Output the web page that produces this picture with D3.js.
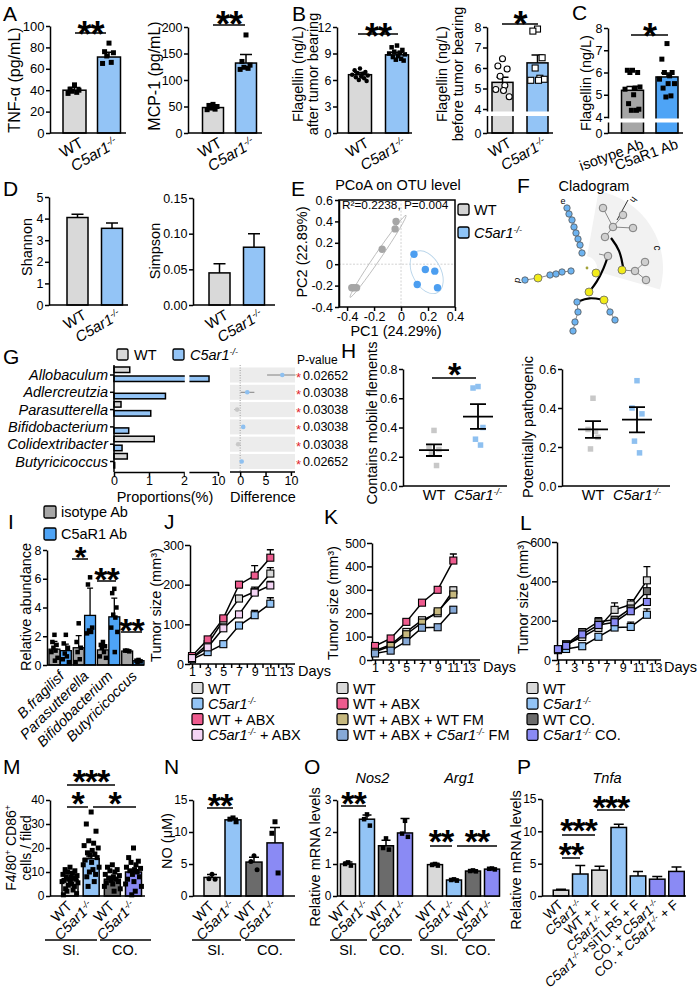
<!DOCTYPE html>
<html><head><meta charset="utf-8">
<script src="https://cdn.jsdelivr.net/npm/d3@7/dist/d3.min.js"></script>
<style>html,body{margin:0;padding:0;background:#fff;}svg{display:block} text{white-space:pre}</style>
</head><body>
<svg id="fig" width="700" height="999" xmlns="http://www.w3.org/2000/svg"></svg>
<script>
// ================= DATA =================
// Panel A
const aCats = ['WT', '*C5ar1*^-/-^'];
const aTnfMean = [40, 71];
const aTnfSem = [2.5, 4.5];
const aTnfPts = [[45, 41, 40, 39, 38, 37], [84, 76, 75, 72, 66, 65]];
const aTnfTicks = [0, 20, 40, 60, 80, 100];
const aMcpMean = [48, 132];
const aMcpSem = [3, 16];
const aMcpPts = [[54, 52, 50, 47, 45, 44], [185, 135, 128, 124, 122, 120]];
const aMcpTicks = [0, 50, 100, 150, 200];
// Panel B
const bAfterMean = [6.6, 8.85];
const bAfterSem = [0.25, 0.3];
const bAfterPts = [[7.3, 7.1, 6.9, 6.8, 6.7, 6.6, 6.5, 6.4, 6.3, 6.2, 6.0, 5.9], [9.9, 9.7, 9.4, 9.2, 9.1, 9.0, 8.9, 8.7, 8.6, 8.4, 8.3, 8.2]];
const bAfterTicks = [0, 3, 6, 9, 12];
const bBeforeMean = [5.3, 6.25];
const bBeforeSem = [0.25, 0.38];
const bBeforePts = [[6.45, 6.1, 5.95, 5.6, 5.15, 4.95, 4.6, 4.9], [7.9, 7.8, 6.5, 6.0, 5.5, 5.4, 5.45, 5.4]];
const brokenTicks = [0, 4, 5, 6, 7, 8];
// Panel C
const cCats = ['isotype Ab', 'C5aR1 Ab'];
const cMean = [5.2, 5.8];
const cSem = [0.17, 0.18];
const cPts = [[6.1, 6.1, 6.0, 6.0, 5.3, 5.25, 5.35, 5.0, 4.6, 4.3, 4.3, 4.35], [7.3, 6.6, 6.0, 6.0, 5.85, 5.7, 5.5, 5.5, 5.3, 4.95, 4.9]];
// Panel D
const dShannon = [4.05, 3.55];
const dShannonSem = [0.15, 0.25];
const dShannonTicks = [0, 1, 2, 3, 4, 5];
const dSimpson = [0.045, 0.081];
const dSimpsonSem = [0.013, 0.019];
const dSimpsonTicks = [0, 0.05, 0.10, 0.15];
// Panel E
const eWT = [[-0.037, 0.40], [-0.044, 0.33], [-0.14, 0.14], [-0.33, -0.22], [-0.35, -0.22], [-0.365, -0.22]];
const eKO = [[0.096, 0.093], [0.18, -0.05], [0.25, -0.065], [0.12, -0.19], [0.27, -0.22]];
const eXTicks = [-0.4, -0.2, 0, 0.2, 0.4];
const eYTicks = [-0.4, -0.2, 0, 0.2, 0.4, 0.6];
const eGreyAxis = [[-0.378, -0.31], [0.037, 0.457]];
const eBlueEll = [0.19, -0.075, 0.105, 0.215];
// Panel F (cladogram node offsets)
const fBlue = [[-18,-60],[-16,-54],[-13,-48],[-11,-41],[-9,-35],[-7,-29],[-5,-23],[-3,-15],[-60,12],[-35,7],[-29,6],[-23,4],[-14,3],[-8,34],[-7,44],[-10,54],[-12,63],[25,44],[30,52]];
const fYellow = [[-47,10],[11,5],[4,24],[19,32],[37,2]];
const fGrey = [[18,-60],[28,-41],[38,-53],[48,-40],[20,-31],[23,-12],[50,3],[60,-6],[61,12]];
const fChains = [
  [[-18,-60],[-16,-54],[-13,-48],[-11,-41],[-9,-35],[-7,-29],[-5,-23],[-3,-15]],
  [[-60,12],[-47,10],[-35,7],[-29,6],[-23,4],[-14,3]],
  [[-8,34],[-7,44],[-10,54],[-12,63]],
  [[19,32],[25,44],[30,52]],
  [[18,-60],[28,-41]], [[38,-53],[28,-41]], [[48,-40],[28,-41]], [[28,-41],[20,-31]],
  [[37,2],[50,3]], [[50,3],[60,-6]], [[50,3],[61,12]], [[11,5],[15,10]], [[23,-12],[14,-14]]
];
const fArcs = [
  [[4,24],[12,14],[19,0],[23,-12]],
  [[26,-30],[35,-18],[38,-1]],
  [[-8,34],[4,29],[19,32]]
];
// Panel G
const gGenera = ['Allobaculum', 'Adlercreutzia', 'Parasutterella', 'Bifidobacterium', 'Colidextribacter', 'Butyricicoccus'];
const gWT = [0.45, 0.0, 0.2, 0.0, 1.15, 0.38];
const gKO = [8.75, 1.47, 1.05, 0.42, 0.23, 0.02];
const gDiff = [8.3, 1.4, -0.6, 0.6, -0.4, 0.3];
const gLo = [5.3, 0.1, -1.1, 0.3, -0.6, 0.1];
const gHi = [10.9, 2.8, -0.2, 0.9, -0.2, 0.5];
const gP = ['0.02652', '0.03038', '0.03038', '0.03038', '0.03038', '0.02652'];
const gPropTicks = [0, 1, 2, 10];
const gDiffTicks = [0, 5, 10];
// Panel H
const hMobilePts = [[0.38, 0.27, 0.25, 0.22, 0.14], [0.68, 0.67, 0.40, 0.32, 0.28]];
const hMobileMean = [0.245, 0.475];
const hMobileSem = [0.04, 0.085];
const hPathoPts = [[0.45, 0.29, 0.25, 0.19, 0.28], [0.54, 0.40, 0.37, 0.23, 0.17]];
const hPathoMean = [0.29, 0.34];
const hPathoSem = [0.043, 0.065];
const hMobileTicks = [0, 0.2, 0.4, 0.6, 0.8];
const hPathoTicks = [0, 0.2, 0.4, 0.6];
// Panel I
const iGroups = ['B.fragilisf', 'Parasutterella', 'Bifidobacterium', 'Butyricicoccus'];
const iIsoMean = [1.1, 1.2, 1.05, 0.97];
const iIsoSd = [0.55, 0.85, 0.35, 0.05];
const iAbMean = [1.0, 3.45, 3.35, 0.3];
const iAbSd = [0.45, 1.9, 1.3, 0.05];
const iIsoPts = [[2.1, 1.6, 1.4, 1.2, 1.0, 0.9, 0.5, 0.3], [2.9, 1.6, 1.2, 0.9, 0.4, 0.2], [1.6, 1.4, 1.3, 1.2, 0.9, 0.6, 0.5], [1.0, 1.0, 0.95]];
const iAbPts = [[2.1, 1.5, 1.2, 0.8, 0.6, 0.4, 0.2], [6.1, 5.6, 2.6, 2.4, 2.3, 2.2], [5.3, 5.0, 4.0, 3.5, 3.3, 2.6, 2.3, 0.9], [0.35, 0.3, 0.25, 0.2]];
const iTicks = [0, 2, 4, 6, 8];
// Panel J
const jDays = [1, 3, 5, 7, 9, 11];
const jNames = ['WT', '*C5ar1*^-/-^', 'WT + ABX', '*C5ar1*^-/-^ + ABX'];
const jWT = [15, 50, 110, 165, 182, 228];
const jWTe = [3, 4, 5, 8, 12, 15];
const jKO = [12, 30, 50, 97, 123, 152];
const jKOe = [2, 3, 4, 6, 12, 15];
const jABX = [20, 62, 115, 200, 223, 268];
const jABXe = [3, 4, 5, 6, 25, 20];
const jKOABX = [15, 42, 90, 125, 180, 198];
const jKOABXe = [2, 3, 4, 5, 8, 10];
const jTicks = [0, 100, 200, 300];
// Panel K
const kDays = [1, 3, 5, 7, 9, 11];
const kNames = ['WT', 'WT + ABX', 'WT + ABX + WT FM', 'WT + ABX + *C5ar1*^-/-^ FM'];
const kWT = [40, 65, 120, 170, 200, 298];
const kWTe = [4, 5, 8, 10, 10, 12];
const kABX = [60, 92, 163, 245, 300, 425];
const kABXe = [5, 6, 8, 10, 10, 28];
const kWTFM = [35, 60, 110, 160, 208, 280];
const kWTFMe = [3, 5, 6, 8, 10, 12];
const kKOFM = [28, 40, 80, 138, 140, 215];
const kKOFMe = [3, 4, 5, 8, 10, 12];
const kTicks = [0, 100, 200, 300, 400, 500];
// Panel L
const lDays = [1, 2, 4, 6, 8, 10, 12];
const lNames = ['WT', '*C5ar1*^-/-^', 'WT CO.', '*C5ar1*^-/-^ CO.'];
const lWT = [55, 80, 117, 163, 255, 282, 405];
const lWTe = [3, 5, 10, 15, 35, 25, 70];
const lKO = [50, 56, 70, 118, 165, 168, 230];
const lKOe = [3, 4, 5, 10, 20, 25, 30];
const lWTCO = [55, 78, 142, 195, 205, 262, 350];
const lWTCOe = [3, 5, 10, 20, 15, 30, 40];
const lKOCO = [55, 72, 130, 178, 192, 248, 295];
const lKOCOe = [3, 5, 8, 15, 15, 25, 40];
const lTicks = [0, 200, 400, 600];
// Panel M
const mCats = ['WT', '*C5ar1*^-/-^', 'WT', '*C5ar1*^-/-^'];
const mMean = [6.7, 15.5, 7.0, 10.0];
const mSem = [0.6, 1.2, 0.7, 0.9];
const mPts = [
  [12, 11, 10.5, 10, 9.5, 9, 8.5, 8, 8, 7.5, 7, 7, 6.5, 6, 6, 5.5, 5, 4.5, 4, 3, 2.5, 2, 1, 0.5],
  [35, 30, 27, 23, 22, 21, 20, 19, 18, 17.5, 17, 16, 15, 14, 13, 12, 11, 10, 9, 8, 6, 4],
  [13, 12, 11, 10.5, 10, 9, 8.5, 8, 7.5, 7, 6.5, 6, 5.5, 5, 4, 3, 2],
  [20, 16, 14.5, 14, 13, 12, 11.5, 11, 10.5, 10, 9, 8, 7, 6, 5, 4, 2, 0.5]];
const mTicks = [0, 10, 20, 30, 40];
// Panel N
const nMean = [2.9, 11.9, 5.3, 8.3];
const nSem = [0.45, 0.25, 0.75, 2.4];
const nPts = [[3.4, 2.7, 2.6], [12.2, 12.0, 11.6], [6.3, 5.4, 4.1], [11.6, 9.8, 3.6]];
const nTicks = [0, 5, 10, 15];
// Panel O
const oGenes = ['Nos2', 'Arg1'];
const oNos2Mean = [1.0, 2.4, 1.57, 1.97];
const oNos2Sem = [0.06, 0.13, 0.17, 0.45];
const oNos2Pts = [[1.05, 1.0, 0.95], [2.55, 2.4, 2.2], [1.8, 1.5, 1.45], [2.35, 1.95, 1.85]];
const oArg1Mean = [0.98, 0.5, 0.78, 0.84];
const oArg1Sem = [0.04, 0.03, 0.03, 0.03];
const oArg1Pts = [[1.0, 0.97, 0.95], [0.52, 0.5, 0.48], [0.8, 0.78, 0.77], [0.86, 0.85, 0.83]];
const oTicks = [0, 1, 2, 3];
// Panel P
const pCats = ['WT', '*C5ar1*^-/-^', 'WT + F', '*C5ar1*^-/-^ + F', '*C5ar1*^-/-^ +siTLR5 + F', 'CO. + *C5ar1*^-/-^', 'CO. + *C5ar1*^-/-^ + F'];
const pMean = [0.9, 3.4, 4.0, 10.6, 3.1, 2.6, 3.8];
const pSem = [0.15, 1.3, 0.6, 0.5, 0.7, 0.4, 0.7];
const pTicks = [0, 5, 10, 15];

// ================= STYLE =================
const F = '"Liberation Sans", Arial, Helvetica, sans-serif';
const GREY = '#d9d9d9', BLUE = '#93c4f6', DGREY = '#6b6b6b', PURP = '#8a8af4', PINK = '#ee5b8e',
      LPINK = '#f4d4f4', KHAKI = '#c6b87e', STEEL = '#86a9d7', ISO = '#a6a6a6', ABBLUE = '#4ea4f6';
const JIT = [0, -0.55, 0.55, -0.28, 0.28, -0.8, 0.8, 0.12, -0.42, 0.42, -0.12, 0.68, -0.68, 0.05, -0.9, 0.9, 0.2, -0.2, 0.5, -0.5, 0.35, -0.35, 0.75, -0.75];
const svg = d3.select('#fig');
svg.append('rect').attr('width', 700).attr('height', 999).attr('fill', '#fff');

function rich(t, s) {
  const toks = s.match(/\*[^*]+\*|\^[^^]+\^|~[^~]+~|[^*^~]+/g) || [];
  let shifted = false;
  toks.forEach(tok => {
    let sp;
    if (tok[0] === '^' || tok[0] === '~') {
      sp = t.append('tspan').attr('font-size', '0.62em').attr('dy', '-0.55em').text(tok.slice(1, -1));
      if (tok[0] === '^') sp.attr('font-style', 'italic');
      shifted = true; return;
    }
    if (tok[0] === '*') sp = t.append('tspan').attr('font-style', 'italic').text(tok.slice(1, -1));
    else sp = t.append('tspan').text(tok);
    if (shifted) { sp.attr('dy', '0.34em'); shifted = false; }
  });
}
function txt(x, y, s, size, o = {}) {
  const t = svg.append('text').attr('x', x).attr('y', y).attr('font-size', size).attr('font-family', F).attr('fill', o.fill || '#000');
  if (o.anchor) t.attr('text-anchor', o.anchor);
  if (o.rot != null) t.attr('transform', `rotate(${o.rot},${x},${y})`);
  if (o.weight) t.attr('font-weight', o.weight);
  rich(t, s);
  return t;
}
function styleAxis(a, size) {
  a.attr('font-family', F).attr('font-size', size);
  a.selectAll('path.domain, .tick line').attr('stroke', '#000').attr('stroke-width', 1.5);
  a.selectAll('text').attr('fill', '#000');
}
function hline(x1, x2, y, w) {
  svg.append('line').attr('x1', x1).attr('x2', x2).attr('y1', y).attr('y2', y).attr('stroke', '#000').attr('stroke-width', w || 1.5);
}
function sig(x1, x2, yl, stars, yc, size) {
  hline(x1, x2, yl);
  svg.append('text').attr('x', (x1 + x2) / 2).attr('y', yc + size * 0.6).attr('text-anchor', 'middle')
    .attr('font-family', F).attr('font-weight', 'bold').attr('font-size', size).attr('letter-spacing', -1).text(stars);
}
function sq(g, x, y, s, fill, stroke) {
  g.append('rect').attr('x', x - s / 2).attr('y', y - s / 2).attr('width', s).attr('height', s)
    .attr('fill', fill).attr('stroke', stroke || 'none').attr('stroke-width', stroke ? 1.1 : 0);
}

function bars(o) {
  const g = svg.append('g');
  const n = o.mean.length, idx = d3.range(n);
  const x = d3.scalePoint().domain(idx).range(o.centers);
  const y = o.y, base = y(0);
  const cap = o.cap || o.bw * 0.28;
  g.selectAll(null).data(idx).join('path')
    .attr('d', i => { const cx = x(i), y1 = y(o.mean[i]), y2 = y(o.mean[i] + o.sem[i]); return `M${cx},${y1}V${y2}M${cx - cap},${y2}H${cx + cap}`; })
    .attr('stroke', '#000').attr('stroke-width', 1.5).attr('fill', 'none');
  g.selectAll(null).data(idx).join('rect')
    .attr('x', i => x(i) - o.bw / 2).attr('width', o.bw)
    .attr('y', i => y(o.mean[i])).attr('height', i => base - y(o.mean[i]))
    .attr('fill', i => o.fill[i]).attr('stroke', '#000').attr('stroke-width', 1.5);
  if (o.pts) {
    const s = o.psize || 5, spread = o.spread || 0.7;
    o.pts.forEach((arr, i) => arr.forEach((v, j) => {
      const px = x(i) + JIT[j % JIT.length] * o.bw * spread / 2, py = y(v);
      const sh = Array.isArray(o.shape) ? o.shape[i] : (o.shape || 'sq');
      if (sh === 'sq') sq(g, px, py, s, '#000');
      else if (sh === 'os') sq(g, px, py, s, '#fff', '#000');
      else g.append('circle').attr('cx', px).attr('cy', py).attr('r', s / 2)
        .attr('fill', sh === 'oc' ? '#fff' : '#000').attr('stroke', '#000').attr('stroke-width', sh === 'oc' ? 1.1 : 0);
    }));
  }
  if (!o.noAxis) {
    const a = g.append('g').attr('transform', `translate(${o.ax},0)`)
      .call(d3.axisLeft(y).tickValues(o.ticks).tickSize(4).tickSizeOuter(0).tickPadding(1.5).tickFormat(o.fmt || (d => d)));
    styleAxis(a, o.tsize || 12.5);
    hline(o.ax, o.xEnd, base);
  }
  if (o.xl) {
    g.selectAll(null).data(idx).join('text').attr('font-family', F).attr('font-size', o.lsize || 14)
      .attr('text-anchor', o.rot ? 'end' : 'middle')
      .attr('transform', i => `translate(${x(i) + (o.lx || 0)},${base + (o.ly || 14)})` + (o.rot ? ` rotate(${o.rot})` : ''))
      .each(function (i) { rich(d3.select(this), o.xl[i]); });
  }
  return { g, x, y, base };
}

function lineChart(o) {
  const g = svg.append('g');
  const x = d3.scaleLinear().domain([1, 13]).range([o.x1, o.x13]);
  const y = d3.scaleLinear().domain([0, o.ymax]).range([o.y0, o.y1]);
  const ya = g.append('g').attr('transform', `translate(${o.ax},0)`)
    .call(d3.axisLeft(y).tickValues(o.yticks).tickSize(5).tickSizeOuter(0).tickPadding(1));
  styleAxis(ya, 12.5);
  const xa = g.append('g').attr('transform', `translate(0,${o.y0})`)
    .call(d3.axisBottom(x).tickValues(d3.range(1, 14)).tickSize(4).tickSizeOuter(0).tickPadding(-1).tickFormat(d => d % 2 ? d : ''));
  styleAxis(xa, 12.5);
  xa.select('.domain').remove();
  hline(o.ax, o.xEnd, o.y0);
  txt(o.xEnd + 3, o.y0 + 12, 'Days', 14.5);
  const line = d3.line().x(p => x(p.t)).y(p => y(p.v));
  const ser = o.series.map(s => s.v.map((v, i) => ({ t: o.days[i], v, e: s.e[i], c: s.c })));
  ser.forEach(d => g.append('path').datum(d).attr('d', line).attr('fill', 'none').attr('stroke', '#000').attr('stroke-width', 1.5));
  ser.forEach(d => g.selectAll(null).data(d).join('path')
    .attr('d', p => `M${x(p.t)},${y(p.v)}V${y(p.v + p.e)}M${x(p.t) - 3.5},${y(p.v + p.e)}H${x(p.t) + 3.5}`)
    .attr('stroke', '#000').attr('stroke-width', 1.3).attr('fill', 'none'));
  ser.forEach(d => d.forEach(p => sq(g, x(p.t), y(p.v), 7, p.c, '#000')));
  o.series.forEach((s, i) => {
    const ly = o.legY + i * 15.6;
    svg.append('rect').attr('x', o.legX).attr('y', ly - 5.5).attr('width', 11).attr('height', 11).attr('rx', 1.5)
      .attr('fill', s.c).attr('stroke', '#000').attr('stroke-width', 1.2);
    txt(o.legX + 16, ly + 5.5, s.name, 14.5);
  });
}

// ================= PANEL LETTERS =================
const letters = [['A', 3, 21], ['B', 292, 21], ['C', 572, 20], ['D', 3, 196], ['E', 291, 196], ['F', 517, 193],
  ['G', 3, 364], ['H', 341, 358], ['I', 8, 529], ['J', 164, 529], ['K', 324, 524], ['L', 520, 530],
  ['M', 3, 774], ['N', 164, 774], ['O', 304, 774], ['P', 517, 774]];
letters.forEach(l => txt(l[1], l[2], l[0], 21));

// ================= A =================
bars({ ax: 50, xEnd: 126, y: d3.scaleLinear().domain([0, 100]).range([133, 26]), centers: [74.5, 109], bw: 23, cap: 6,
  mean: aTnfMean, sem: aTnfSem, fill: [GREY, BLUE], pts: aTnfPts, psize: 5, ticks: aTnfTicks, tsize: 13,
  xl: aCats, rot: -30, lx: 10, ly: 13, lsize: 15.5 });
txt(19.5, 80, 'TNF-α (pg/mL)', 16, { anchor: 'middle', rot: -90 });
sig(75, 106, 33, '**', 25, 36);
bars({ ax: 188, xEnd: 262, y: d3.scaleLinear().domain([0, 200]).range([133, 27]), centers: [213, 246], bw: 21, cap: 6,
  mean: aMcpMean, sem: aMcpSem, fill: [GREY, BLUE], pts: aMcpPts, psize: 5, ticks: aMcpTicks, tsize: 12.5,
  xl: aCats, rot: -30, lx: 10, ly: 13, lsize: 15.5 });
txt(160, 76, 'MCP-1 (pg/mL)', 16, { anchor: 'middle', rot: -90 });
sig(213, 245, 25, '**', 15, 36);

// ================= B =================
bars({ ax: 337, xEnd: 412, y: d3.scaleLinear().domain([0, 12]).range([133, 27]), centers: [360, 397], bw: 23, cap: 6,
  mean: bAfterMean, sem: bAfterSem, fill: [GREY, BLUE], pts: bAfterPts, psize: 4.5, spread: 0.85, shape: ['ci', 'sq'], ticks: bAfterTicks,
  xl: aCats, rot: -30, lx: 10, ly: 13, lsize: 15 });
txt(303, 74, 'Flagellin (ng/L)', 14.5, { anchor: 'middle', rot: -90 });
txt(318, 74, 'after tumor bearing', 14.5, { anchor: 'middle', rot: -90 });
sig(358, 398, 34, '**', 27.5, 36);

const bBrk = d3.scaleLinear().domain([0, 1, 4, 8]).range([133, 118, 109, 27]);
bars({ ax: 487, xEnd: 553, y: bBrk, centers: [502.5, 537.5], bw: 21, cap: 6,
  mean: bBeforeMean, sem: bBeforeSem, fill: [GREY, BLUE], pts: bBeforePts, psize: 6, spread: 0.8, shape: ['oc', 'os'], ticks: brokenTicks,
  xl: aCats, rot: -30, lx: 10, ly: 13, lsize: 15 });
svg.append('rect').attr('x', 485).attr('y', 111.5).attr('width', 70).attr('height', 4.5).attr('fill', '#fff');
txt(447, 74, 'Flagellin (ng/L)', 14.5, { anchor: 'middle', rot: -90 });
txt(463, 74, 'before tumor bearing', 14.5, { anchor: 'middle', rot: -90 });
sig(502, 538, 24, '*', 15, 36);

// ================= C =================
const cBrk = d3.scaleLinear().domain([0, 1, 4, 8]).range([133, 123, 117, 28]);
bars({ ax: 608, xEnd: 683, y: cBrk, centers: [632.5, 667], bw: 22, cap: 6,
  mean: cMean, sem: cSem, fill: [ISO, ABBLUE], pts: cPts, psize: 5, spread: 0.85, ticks: brokenTicks,
  xl: cCats, rot: -20, lx: 12, ly: 15, lsize: 14.5 });
svg.append('rect').attr('x', 606).attr('y', 118.5).attr('width', 80).attr('height', 4).attr('fill', '#fff');
txt(591, 83, 'Flagellin (ng/L)', 14.5, { anchor: 'middle', rot: -90 });
sig(631, 668, 35, '*', 27, 36);

// ================= D =================
bars({ ax: 49, xEnd: 128, y: d3.scaleLinear().domain([0, 5]).range([305, 197]), centers: [77.5, 112], bw: 21, cap: 6,
  mean: dShannon, sem: dShannonSem, fill: [GREY, BLUE], ticks: dShannonTicks,
  xl: aCats, rot: -30, lx: 10, ly: 13, lsize: 15 });
txt(32, 247, 'Shannon', 14.5, { anchor: 'middle', rot: -90 });
bars({ ax: 193, xEnd: 275, y: d3.scaleLinear().domain([0, 0.15]).range([305, 198]), centers: [219.5, 254], bw: 21, cap: 6,
  mean: dSimpson, sem: dSimpsonSem, fill: [GREY, BLUE], ticks: dSimpsonTicks, fmt: d => d.toFixed(2),
  xl: aCats, rot: -30, lx: 10, ly: 13, lsize: 15 });
txt(160, 251, 'Simpson', 14.5, { anchor: 'middle', rot: -90 });

// ================= E =================
(function () {
  const x = d3.scaleLinear().domain([-0.46, 0.4]).range([339, 455]);
  const y = d3.scaleLinear().domain([-0.4, 0.6]).range([307, 200]);
  const g = svg.append('g');
  g.append('line').attr('x1', x(0)).attr('x2', x(0)).attr('y1', 200).attr('y2', 307).attr('stroke', '#c8c8c8').attr('stroke-width', 0.8).attr('stroke-dasharray', '2,1.5');
  g.append('line').attr('x1', 339).attr('x2', 455).attr('y1', y(0)).attr('y2', y(0)).attr('stroke', '#c8c8c8').attr('stroke-width', 0.8).attr('stroke-dasharray', '2,1.5');
  const p1 = [x(eGreyAxis[0][0]), y(eGreyAxis[0][1])], p2 = [x(eGreyAxis[1][0]), y(eGreyAxis[1][1])];
  const cxg = (p1[0] + p2[0]) / 2, cyg = (p1[1] + p2[1]) / 2;
  const len = Math.hypot(p2[0] - p1[0], p2[1] - p1[1]) / 2, ang = Math.atan2(p2[1] - p1[1], p2[0] - p1[0]) * 180 / Math.PI;
  g.append('ellipse').attr('cx', cxg).attr('cy', cyg).attr('rx', len).attr('ry', 3.2)
    .attr('transform', `rotate(${ang},${cxg},${cyg})`).attr('fill', 'none').attr('stroke', '#b5b5b5').attr('stroke-width', 0.8);
  const bx = x(eBlueEll[0]), by = y(eBlueEll[1]);
  g.append('ellipse').attr('cx', bx).attr('cy', by).attr('rx', x(eBlueEll[2]) - x(0)).attr('ry', y(0) - y(eBlueEll[3]))
    .attr('transform', `rotate(-28,${bx},${by})`).attr('fill', 'none').attr('stroke', '#b9d5ea').attr('stroke-width', 0.9);
  g.selectAll(null).data(eWT).join('circle').attr('cx', d => x(d[0])).attr('cy', d => y(d[1])).attr('r', 3.7).attr('fill', '#a6a6a6');
  g.selectAll(null).data(eKO).join('circle').attr('cx', d => x(d[0])).attr('cy', d => y(d[1])).attr('r', 3.7).attr('fill', '#4c9ef0');
  g.append('rect').attr('x', 339).attr('y', 200).attr('width', 116).attr('height', 107).attr('fill', 'none').attr('stroke', '#000').attr('stroke-width', 1.5);
  const ya = g.append('g').attr('transform', 'translate(339,0)').call(d3.axisLeft(y).tickValues(eYTicks).tickSize(4).tickSizeOuter(0).tickPadding(2).tickFormat(d => d === 0 ? '0' : d.toFixed(1)));
  styleAxis(ya, 12.5);
  const xa = g.append('g').attr('transform', 'translate(0,307)').call(d3.axisBottom(x).tickValues(eXTicks).tickSize(4).tickSizeOuter(0).tickPadding(1).tickFormat(d => d === 0 ? '0' : d.toFixed(1)));
  styleAxis(xa, 12.5);
  xa.select('.domain').remove();
  txt(342, 209, 'R²=0.2238, P=0.004', 11.8);
  txt(398, 190, 'PCoA on OTU level', 14.5, { anchor: 'middle' });
  txt(307, 252, 'PC2 (22.89%)', 14.5, { anchor: 'middle', rot: -90 });
  txt(396, 336, 'PC1 (24.29%)', 14.5, { anchor: 'middle' });
  [['WT', '#d4d4d4'], ['*C5ar1*^-/-^', '#8ec4f7']].forEach((d, i) => {
    svg.append('rect').attr('x', 458).attr('y', 204 + i * 23).attr('width', 11).attr('height', 11).attr('rx', 2)
      .attr('fill', d[1]).attr('stroke', '#000').attr('stroke-width', 1.3);
    txt(474, 215 + i * 23, d[0], 14.5);
  });
})();

// ================= F (cladogram) =================
(function () {
  const fx = d3.scaleLinear().domain([0, 1]).range([585, 586]);
  const fy = d3.scaleLinear().domain([0, 1]).range([268, 269]);
  const g = svg.append('g');
  const sector = d3.arc()({ innerRadius: 12, outerRadius: 78, startAngle: 10 * Math.PI / 180, endAngle: 106 * Math.PI / 180 });
  g.append('path').attr('d', sector).attr('transform', `translate(${fx(0)},${fy(0)})`).attr('fill', '#f2f2f2');
  const ln = d3.line().x(d => fx(d[0])).y(d => fy(d[1]));
  fChains.forEach(c => g.append('path').attr('d', ln(c)).attr('fill', 'none').attr('stroke', '#8a8a8a').attr('stroke-width', 1));
  const arc = d3.line().x(d => fx(d[0])).y(d => fy(d[1])).curve(d3.curveBasis);
  fArcs.forEach(c => g.append('path').attr('d', arc(c)).attr('fill', 'none').attr('stroke', '#000').attr('stroke-width', 2.2));
  g.append('path').attr('d', ln([[32, -48], [43, -68]])).attr('stroke', '#333').attr('stroke-width', 1);
  g.selectAll(null).data(fBlue).join('circle').attr('cx', d => fx(d[0])).attr('cy', d => fy(d[1])).attr('r', 3.2)
    .attr('fill', '#6db3f0').attr('stroke', '#555').attr('stroke-width', 0.8);
  g.selectAll(null).data(fGrey).join('circle').attr('cx', d => fx(d[0])).attr('cy', d => fy(d[1])).attr('r', 3.8)
    .attr('fill', '#cfcfcf').attr('stroke', '#666').attr('stroke-width', 0.8);
  g.selectAll(null).data(fYellow).join('circle').attr('cx', d => fx(d[0])).attr('cy', d => fy(d[1])).attr('r', 4)
    .attr('fill', '#f2ec1a').attr('stroke', '#666').attr('stroke-width', 0.8);
  g.append('circle').attr('cx', fx(2)).attr('cy', fy(0)).attr('r', 1.4).attr('fill', '#a3a33a');
  txt(fx(-22), fy(-64), 'e', 9, { anchor: 'middle' });
  txt(fx(-70), fy(12), 'd', 9, { anchor: 'middle', rot: 100 });
  txt(fx(69), fy(-20), 'c', 10, { anchor: 'middle', rot: 90 });
  txt(fx(46), fy(-70), 'h', 9, { anchor: 'middle', rot: 125 });
  txt(594, 191, 'Cladogram', 14.5, { anchor: 'middle' });
})();

// ================= G =================
(function () {
  const g = svg.append('g');
  const yR = d3.scalePoint().domain(gGenera).range([375, 461.5]);
  const x = d3.scaleLinear().domain([0, 2, 6.1, 10]).range([114, 184, 190, 218]);
  const xd = d3.scaleLinear().domain([-2, 10.8]).range([230, 295]);
  [['WT', GREY], ['*C5ar1*^-/-^', BLUE]].forEach((d, i) => {
    svg.append('rect').attr('x', 117 + i * 56).attr('y', 349).attr('width', 11).attr('height', 11).attr('rx', 1.5)
      .attr('fill', d[1]).attr('stroke', '#000').attr('stroke-width', 1.3);
    txt(134 + i * 56, 360, d[0], 14.5);
  });
  g.selectAll(null).data(gGenera).join('rect').attr('x', x(0)).attr('y', d => yR(d) - 8).attr('height', 5.5)
    .attr('width', (d, i) => x(gWT[i]) - x(0)).attr('fill', GREY).attr('stroke', '#000').attr('stroke-width', 1.5);
  g.selectAll(null).data(gGenera).join('rect').attr('x', x(0)).attr('y', d => yR(d) + 1).attr('height', 5.5)
    .attr('width', (d, i) => x(gKO[i]) - x(0)).attr('fill', BLUE).attr('stroke', '#000').attr('stroke-width', 1.5);
  g.append('line').attr('x1', 114).attr('x2', 114).attr('y1', 365).attr('y2', 472).attr('stroke', '#000').attr('stroke-width', 1.5);
  g.selectAll(null).data(gGenera).join('line').attr('x1', 110).attr('x2', 114).attr('y1', d => yR(d)).attr('y2', d => yR(d)).attr('stroke', '#000').attr('stroke-width', 1.5);
  const xa = g.append('g').attr('transform', 'translate(0,472)').call(d3.axisBottom(x).tickValues(gPropTicks).tickSize(4).tickSizeOuter(0).tickPadding(0));
  styleAxis(xa, 12.5);
  g.append('rect').attr('x', 184.8).attr('y', 362).attr('width', 4.6).attr('height', 114).attr('fill', '#fff');
  g.selectAll(null).data(gGenera).join('text').attr('x', 108).attr('y', d => yR(d) + 5).attr('text-anchor', 'end')
    .attr('font-family', F).attr('font-size', 14.5).attr('font-style', 'italic').text(d => d);
  g.selectAll(null).data(gGenera).join('rect').attr('x', 230).attr('width', 65).attr('y', d => yR(d) - 7.5).attr('height', 15).attr('fill', '#ececec');
  g.append('line').attr('x1', xd(0)).attr('x2', xd(0)).attr('y1', 365).attr('y2', 472).attr('stroke', '#888').attr('stroke-width', 0.8).attr('stroke-dasharray', '1,1.5');
  g.selectAll(null).data(gGenera).join('line').attr('x1', (d, i) => xd(gLo[i])).attr('x2', (d, i) => xd(gHi[i]))
    .attr('y1', d => yR(d)).attr('y2', d => yR(d)).attr('stroke', '#777').attr('stroke-width', 0.9);
  g.selectAll(null).data(gGenera).join('circle').attr('cx', (d, i) => xd(gDiff[i])).attr('cy', d => yR(d)).attr('r', 2.3)
    .attr('fill', (d, i) => gDiff[i] > 0 ? '#8ec0f0' : '#c8c8c8');
  const xb = g.append('g').attr('transform', 'translate(0,472)').call(d3.axisBottom(xd).tickValues(gDiffTicks).tickSize(4).tickSizeOuter(0).tickPadding(0));
  styleAxis(xb, 12.5);
  xb.select('.domain').attr('d', `M230,0H295`);
  g.selectAll(null).data(gGenera).join('text').attr('x', 296).attr('y', d => yR(d) + 7).attr('font-family', F).attr('font-size', 13).attr('fill', '#e0262c').text('*');
  g.selectAll(null).data(gGenera).join('text').attr('x', 303).attr('y', d => yR(d) + 4.5).attr('font-family', F).attr('font-size', 12.5).text((d, i) => gP[i]);
  txt(297, 364, 'P-value', 12);
  txt(165, 502, 'Proportions(%)', 14.5, { anchor: 'middle' });
  txt(263, 502, 'Difference', 14.5, { anchor: 'middle' });
})();

// ================= H =================
function dotChart(o) {
  const g = svg.append('g');
  const x = d3.scalePoint().domain([0, 1]).range(o.centers);
  const y = o.y;
  o.pts.forEach((arr, i) => arr.forEach((v, j) => sq(g, x(i) + JIT[j] * 9, y(v), 5.5, o.cols[i])));
  o.mean.forEach((m, i) => {
    const cx = x(i);
    g.append('path').attr('d', `M${cx - 15},${y(m)}H${cx + 15}M${cx},${y(m - o.sem[i])}V${y(m + o.sem[i])}M${cx - 8},${y(m - o.sem[i])}H${cx + 8}M${cx - 8},${y(m + o.sem[i])}H${cx + 8}`)
      .attr('stroke', '#000').attr('stroke-width', 1.8).attr('fill', 'none');
  });
  const a = g.append('g').attr('transform', `translate(${o.ax},0)`).call(d3.axisLeft(y).tickValues(o.ticks).tickSize(4).tickSizeOuter(0).tickPadding(1.5).tickFormat(d => d.toFixed(1)));
  styleAxis(a, 12.5);
  hline(o.ax, o.xEnd, y(0));
  ['WT', '*C5ar1*^-/-^'].forEach((s, i) => txt(x(i), 500, s, 14.5, { anchor: 'middle' }));
}
dotChart({ ax: 403, xEnd: 507, y: d3.scaleLinear().domain([0, 0.8]).range([486, 369]), centers: [434, 478],
  pts: hMobilePts, mean: hMobileMean, sem: hMobileSem, cols: ['#c8c8c8', '#8ec0f0'], ticks: hMobileTicks });
txt(377, 423, 'Contains mobile flements', 14.5, { anchor: 'middle', rot: -90 });
sig(432, 476, 378, '*', 366, 34);
dotChart({ ax: 562, xEnd: 670, y: d3.scaleLinear().domain([0, 0.6]).range([486, 369]), centers: [593, 637],
  pts: hPathoPts, mean: hPathoMean, sem: hPathoSem, cols: ['#c8c8c8', '#8ec0f0'], ticks: hPathoTicks });
txt(533, 427, 'Potentially pathogenic', 14.5, { anchor: 'middle', rot: -90 });

// ================= I =================
(function () {
  const g = svg.append('g');
  const y = d3.scaleLinear().domain([0, 8]).range([665, 550]);
  const x0 = d3.scaleBand().domain(iGroups).range([49, 144]).paddingInner(0.08);
  const x1 = d3.scaleBand().domain([0, 1]).range([0, x0.bandwidth()]).paddingInner(0.04);
  const sets = [[iIsoMean, iIsoSd, iIsoPts, ISO], [iAbMean, iAbSd, iAbPts, ABBLUE]];
  sets.forEach((s, k) => {
    iGroups.forEach((gr, i) => {
      const bx = x0(gr) + x1(k), bw = x1.bandwidth(), cx = bx + bw / 2;
      g.append('path').attr('d', `M${cx},${y(s[0][i])}V${y(s[0][i] + s[1][i])}M${cx - 3},${y(s[0][i] + s[1][i])}H${cx + 3}`).attr('stroke', '#000').attr('stroke-width', 1.3);
      g.append('rect').attr('x', bx).attr('width', bw).attr('y', y(s[0][i])).attr('height', y(0) - y(s[0][i]))
        .attr('fill', s[3]).attr('stroke', '#000').attr('stroke-width', 1.3);
      s[2][i].forEach((v, j) => sq(g, cx + JIT[j] * bw * 0.35, y(v), 4.5, '#000'));
    });
  });
  const a = g.append('g').attr('transform', 'translate(47,0)').call(d3.axisLeft(y).tickValues(iTicks).tickSize(4).tickSizeOuter(0).tickPadding(1.5));
  styleAxis(a, 12.5);
  hline(47, 144, 665);
  g.selectAll(null).data(iGroups).join('text').attr('font-family', F).attr('font-size', 14.5).attr('font-style', 'italic').attr('text-anchor', 'end')
    .attr('transform', d => `translate(${x0(d) + x0.bandwidth() / 2 + 5},${677}) rotate(-45)`).text(d => d);
  [['isotype Ab', ISO], ['C5aR1 Ab', ABBLUE]].forEach((d, i) => {
    svg.append('rect').attr('x', 44).attr('y', 506 + i * 22).attr('width', 12).attr('height', 12).attr('rx', 1.5)
      .attr('fill', d[1]).attr('stroke', '#000').attr('stroke-width', 1.3);
    txt(61, 517 + i * 22, d[0], 14.5);
  });
  txt(31, 607, 'Relative abundance', 14.5, { anchor: 'middle', rot: -90 });
  sig(72, 88, 559, '*', 549, 30);
  sig(97, 116, 581, '**', 571, 34);
  sig(121, 142, 632, '**', 622, 34);
})();

// ================= J K L =================
lineChart({ ax: 190, xEnd: 295, x1: 192, x13: 286, y0: 664, y1: 545, ymax: 300, yticks: jTicks, days: jDays,
  legX: 192, legY: 688,
  series: [{ v: jWT, e: jWTe, c: GREY, name: jNames[0] }, { v: jKO, e: jKOe, c: BLUE, name: jNames[1] },
    { v: jABX, e: jABXe, c: PINK, name: jNames[2] }, { v: jKOABX, e: jKOABXe, c: LPINK, name: jNames[3] }] });
txt(161, 605, 'Tumor size (mm³)', 14.5, { anchor: 'middle', rot: -90 });
lineChart({ ax: 372, xEnd: 480, x1: 375, x13: 469, y0: 660, y1: 543, ymax: 500, yticks: kTicks, days: kDays,
  legX: 337, legY: 688,
  series: [{ v: kWT, e: kWTe, c: GREY, name: kNames[0] }, { v: kABX, e: kABXe, c: PINK, name: kNames[1] },
    { v: kWTFM, e: kWTFMe, c: KHAKI, name: kNames[2] }, { v: kKOFM, e: kKOFMe, c: STEEL, name: kNames[3] }] });
txt(338, 603, 'Tumor size (mm³)', 14.5, { anchor: 'middle', rot: -90 });
lineChart({ ax: 557, xEnd: 661, x1: 558, x13: 655, y0: 660, y1: 542, ymax: 600, yticks: lTicks, days: lDays,
  legX: 527, legY: 688,
  series: [{ v: lWT, e: lWTe, c: GREY, name: lNames[0] }, { v: lKO, e: lKOe, c: BLUE, name: lNames[1] },
    { v: lWTCO, e: lWTCOe, c: DGREY, name: lNames[2] }, { v: lKOCO, e: lKOCOe, c: PURP, name: lNames[3] }] });
txt(528, 597, 'Tumor size (mm³)', 14.5, { anchor: 'middle', rot: -90 });

// ================= M =================
const fourFill = [GREY, BLUE, DGREY, PURP];
bars({ ax: 50, xEnd: 145, y: d3.scaleLinear().domain([0, 40]).range([896, 800]), centers: [70, 133.5], bw: 16, cap: 5,
  mean: mMean, sem: mSem, fill: fourFill, pts: mPts, psize: 5, spread: 1.1, ticks: mTicks, tsize: 12,
  xl: mCats, rot: -45, lx: 3, ly: 11, lsize: 14.5 });
hline(45, 97, 940); hline(100, 151, 940);
txt(71, 955, 'SI.', 14.5, { anchor: 'middle' }); txt(125, 955, 'CO.', 14.5, { anchor: 'middle' });
txt(16, 848, 'F4/80~+~ CD86~+~', 14, { anchor: 'middle', rot: -90 });
txt(31, 848, 'cells / filed', 14, { anchor: 'middle', rot: -90 });
sig(67, 115, 785, '***', 773, 34);
sig(67, 88, 807, '*', 795, 34);
sig(93, 136, 807, '*', 795, 34);

// ================= N =================
bars({ ax: 193, xEnd: 295, y: d3.scaleLinear().domain([0, 15]).range([896, 800]), centers: [212, 275], bw: 16, cap: 5,
  mean: nMean, sem: nSem, fill: fourFill, pts: nPts, psize: 5, shape: ['ci', 'sq', 'ci', 'sq'], ticks: nTicks, tsize: 12,
  xl: mCats, rot: -45, lx: 3, ly: 11, lsize: 14.5 });
hline(192, 241, 940); hline(245, 295, 940);
txt(216, 955, 'SI.', 14.5, { anchor: 'middle' }); txt(270, 955, 'CO.', 14.5, { anchor: 'middle' });
txt(172, 841, 'NO (μM)', 14.5, { anchor: 'middle', rot: -90 });
sig(207, 233, 808, '**', 797, 34);

// ================= O =================
(function () {
  const og = d3.scalePoint().domain(oGenes).range([376.5, 463.5]);
  const y = d3.scaleLinear().domain([0, 3]).range([896, 800]);
  bars({ ax: 337, xEnd: 500, y, centers: [og('Nos2') - 28.5, og('Nos2') + 28.5], bw: 15, cap: 4.5,
    mean: oNos2Mean, sem: oNos2Sem, fill: fourFill, pts: oNos2Pts, psize: 4.5, ticks: oTicks, tsize: 12,
    xl: mCats, rot: -45, lx: 3, ly: 11, lsize: 14.5 });
  bars({ noAxis: true, y, centers: [og('Arg1') - 28.5, og('Arg1') + 28.5], bw: 15, cap: 4.5,
    mean: oArg1Mean, sem: oArg1Sem, fill: fourFill, pts: oArg1Pts, psize: 4.5,
    xl: mCats, rot: -45, lx: 3, ly: 11, lsize: 14.5 });
  oGenes.forEach(gn => txt(og(gn) - 4, 783, '*' + gn + '*', 14.5, { anchor: 'middle' }));
  hline(330, 367, 940); hline(372, 412, 940); hline(420, 458, 940); hline(462, 495, 940);
  txt(348, 955, 'SI.', 14.5, { anchor: 'middle' }); txt(392, 955, 'CO.', 14.5, { anchor: 'middle' });
  txt(439, 955, 'SI.', 14.5, { anchor: 'middle' }); txt(478, 955, 'CO.', 14.5, { anchor: 'middle' });
  txt(320, 857, 'Relative mRNA levels', 14.5, { anchor: 'middle', rot: -90 });
  sig(341, 366, 806, '**', 795, 34);
  sig(430, 452, 846, '**', 833, 34);
  sig(457, 497, 846, '**', 833, 34);
})();

// ================= P =================
bars({ ax: 542, xEnd: 686, y: d3.scaleLinear().domain([0, 15]).range([896, 799]), centers: [561, 676.5], bw: 15.5, cap: 5,
  mean: pMean, sem: pSem, fill: [GREY, BLUE, GREY, BLUE, BLUE, PURP, PURP], ticks: pTicks, tsize: 12,
  xl: pCats, rot: -42, lx: 3, ly: 10, lsize: 13.5 });
txt(607, 783, '*Tnfa*', 14.5, { anchor: 'middle' });
txt(521, 860, 'Relative mRNA levels', 14.5, { anchor: 'middle', rot: -90 });
sig(562, 580, 858, '**', 846, 34);
sig(562, 595, 835, '***', 822, 34);
sig(597, 625, 810, '***', 799, 34);
</script>
</body></html>
